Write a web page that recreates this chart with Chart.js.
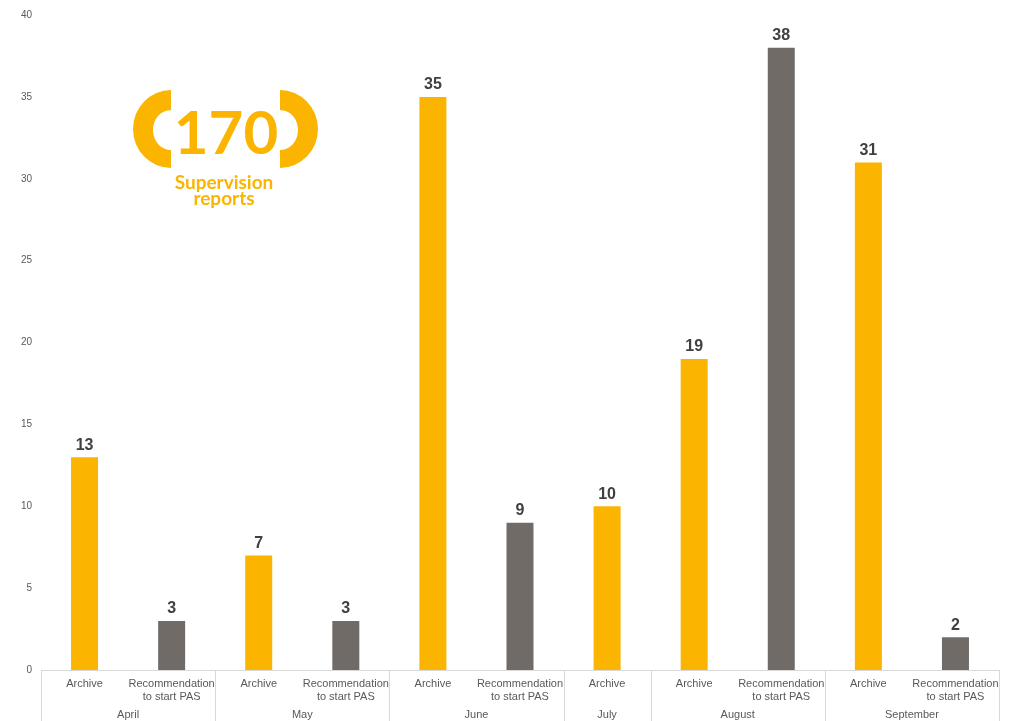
<!DOCTYPE html>
<html>
<head>
<meta charset="utf-8">
<script src="https://cdn.jsdelivr.net/npm/chart.js@4"></script>
<style>
  html, body { margin: 0; padding: 0; background: #fff; }
  #wrap { position: relative; width: 1011px; height: 721px; }
</style>
</head>
<body>
<div id="wrap"><canvas id="myChart"></canvas></div>
<script>
// data
const months = ["April", "May", "June", "July", "August", "September"];
const subLabels = ["Archive", "Recommendation to start PAS"];
const archive = [13, 7, 35, 10, 19, 31];
const recommendation = [3, 3, 9, null, 38, 2];
const yTicks = [0, 5, 10, 15, 20, 25, 30, 35, 40];

const YELLOW = "#fbb500";
const GREY = "#706b67";

// flat category list built from the arrays above
var labels = [], values = [], colors = [], monthIdx = [];
months.forEach(function (m, i) {
  labels.push(["Archive"]); values.push(archive[i]); colors.push(YELLOW); monthIdx.push(i);
  if (recommendation[i] != null) {
    labels.push(["Recommendation", "to start PAS"]); values.push(recommendation[i]); colors.push(GREY); monthIdx.push(i);
  }
});

// month labels + separators under the axis
const monthAxis = {
  id: "monthAxis",
  afterDraw(chart) {
    var ctx = chart.ctx, x = chart.scales.x, bottom = chart.scales.y.bottom;
    var edge = function (i) {
      if (i <= 0) return x.left;
      if (i >= labels.length) return x.right;
      return (x.getPixelForValue(i - 1) + x.getPixelForValue(i)) / 2;
    };
    ctx.save();
    ctx.strokeStyle = "#d9d9d9";
    ctx.lineWidth = 1;
    ctx.font = "11px 'Liberation Sans', Arial";
    ctx.fillStyle = "#595959";
    ctx.textAlign = "center";
    ctx.textBaseline = "middle";
    var start = 0;
    for (var i = 1; i <= labels.length; i++) {
      if (i == labels.length || monthIdx[i] != monthIdx[start]) {
        var a = edge(start), b = edge(i);
        ctx.fillText(months[monthIdx[start]], (a + b) / 2, 715);
        start = i;
      }
    }
    for (var j = 0; j <= labels.length; j++) {
      if (j == 0 || j == labels.length || monthIdx[j] != monthIdx[j - 1]) {
        var px = Math.round(edge(j)) + 0.5;
        ctx.beginPath(); ctx.moveTo(px, bottom); ctx.lineTo(px, 721); ctx.stroke();
      }
    }
    ctx.restore();
  }
};

// value labels above bars
const valueLabels = {
  id: "valueLabels",
  afterDatasetsDraw(chart) {
    var ctx = chart.ctx, meta = chart.getDatasetMeta(0);
    ctx.save();
    ctx.font = "bold 16px 'Liberation Sans', Arial";
    ctx.fillStyle = "#404040";
    ctx.textAlign = "center";
    ctx.textBaseline = "bottom";
    meta.data.forEach(function (bar, i) {
      ctx.fillText(values[i], bar.x, bar.y - 4);
    });
    ctx.restore();
  }
};

// the "(170) Supervision reports" badge
const badge = {
  id: "badge",
  afterDraw(chart) {
    var ctx = chart.ctx;
    ctx.save();
    ctx.fillStyle = YELLOW;
    // left bracket
    ctx.beginPath();
    ctx.ellipse(171, 129, 38, 39, 0, Math.PI / 2, Math.PI * 1.5);
    ctx.ellipse(171, 130, 18, 20, 0, Math.PI * 1.5, Math.PI / 2, true);
    ctx.closePath();
    ctx.fill();
    // right bracket
    ctx.beginPath();
    ctx.ellipse(280, 129, 38, 39, 0, Math.PI * 1.5, Math.PI / 2);
    ctx.ellipse(280, 130, 18, 20, 0, Math.PI / 2, Math.PI * 1.5, true);
    ctx.closePath();
    ctx.fill();
    ctx.textAlign = "center";
    ctx.textBaseline = "alphabetic";
    ctx.font = "bold 60px Lato";
    ctx.fillText("170", 226, 154);
    ctx.font = "bold 19px Lato";
    ctx.fillText("Supervision", 224, 189);
    ctx.fillText("reports", 224, 205);
    ctx.restore();
  }
};

const config = {
  type: "bar",
  data: {
    labels: labels,
    datasets: [{
      data: values,
      backgroundColor: colors,
      categoryPercentage: 1,
      barPercentage: 0.31
    }]
  },
  options: {
    responsive: false,
    animation: false,
    layout: { padding: { top: 15, right: 12, left: 0, bottom: 0 } },
    plugins: { legend: { display: false }, tooltip: { enabled: false } },
    scales: {
      y: {
        min: 0, max: 40,
        afterBuildTicks: function (s) { s.ticks = yTicks.map(function (v) { return { value: v }; }); },
        afterFit: function (s) { s.width = 41; },
        grid: { display: false, drawTicks: false },
        border: { display: false },
        ticks: { color: "#595959", font: { size: 10, family: "'Liberation Sans', Arial" }, padding: 9 }
      },
      x: {
        afterFit: function (s) { s.height = 51; },
        grid: { display: false, drawTicks: false },
        border: { color: "#d9d9d9" },
        ticks: {
          color: "#595959", font: { size: 11, family: "'Liberation Sans', Arial" },
          maxRotation: 0, autoSkip: false, padding: 7
        }
      }
    }
  },
  plugins: [valueLabels, monthAxis, badge]
};

var canvas = document.getElementById("myChart");
canvas.width = 1011; canvas.height = 721;
var myChart = new Chart(canvas, config);
</script>
</body>
</html>
